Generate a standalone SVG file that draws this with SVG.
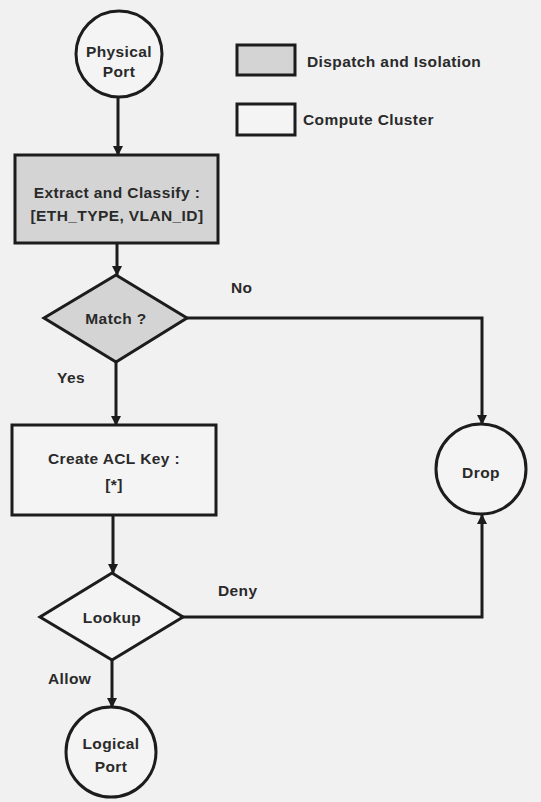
<svg xmlns="http://www.w3.org/2000/svg" width="541" height="802" viewBox="0 0 541 802">
<defs>
<style>
.n{stroke:#1c1c1c;stroke-width:3;}
.g{fill:#d4d4d4;}
.w{fill:#f4f4f4;}
.t{font-family:"Liberation Sans",Arial,sans-serif;font-weight:bold;font-size:15.5px;letter-spacing:0.4px;fill:#2a2a2a;text-anchor:middle;}
.l{font-family:"Liberation Sans",Arial,sans-serif;font-weight:bold;font-size:15.5px;letter-spacing:0.4px;fill:#2a2a2a;}
.c{fill:none;stroke:#1c1c1c;stroke-width:3;}
</style>
<marker id="a" markerWidth="10" markerHeight="10" refX="9" refY="5" orient="auto" markerUnits="userSpaceOnUse" viewBox="0 0 10 10">
<path d="M0,0 L10,5 L0,10 z" fill="#1c1c1c"/>
</marker>
</defs>
<rect width="541" height="802" fill="#f1f1f1"/>
<g id="connectors">
<line class="c" x1="118" y1="97" x2="118" y2="155" marker-end="url(#a)"/>
<line class="c" x1="117" y1="243" x2="117" y2="275" marker-end="url(#a)"/>
<line class="c" x1="116" y1="362" x2="116" y2="425" marker-end="url(#a)"/>
<polyline class="c" points="187,318 482,318 482,424" marker-end="url(#a)"/>
<line class="c" x1="113" y1="515" x2="113" y2="573" marker-end="url(#a)"/>
<polyline class="c" points="183,617 482,617 482,515" marker-end="url(#a)"/>
<line class="c" x1="112" y1="660" x2="112" y2="707" marker-end="url(#a)"/>
<text class="l" x="231" y="293">No</text>
<text class="l" x="57" y="383">Yes</text>
<text class="l" x="218" y="596">Deny</text>
<text class="l" x="48" y="684">Allow</text>
</g>
<g id="legend">
<rect class="n g" x="237" y="45" width="58" height="30"/>
<text class="l" x="307" y="67">Dispatch and Isolation</text>
<rect class="n w" x="237" y="104" width="58" height="31"/>
<text class="l" x="303" y="125">Compute Cluster</text>
</g>
<g id="physical-port">
<circle class="n w" cx="119" cy="54" r="43"/>
<text class="t" x="119" y="57">Physical</text>
<text class="t" x="119" y="77">Port</text>
</g>
<g id="extract">
<rect class="n g" x="15" y="155" width="203" height="88"/>
<text class="t" x="117" y="198">Extract and Classify :</text>
<text class="t" x="117" y="221">[ETH_TYPE, VLAN_ID]</text>
</g>
<g id="match">
<polygon class="n g" points="116,275 187,318 116,362 44,318"/>
<text class="t" x="116" y="324">Match ?</text>
</g>
<g id="create-acl">
<rect class="n w" x="12" y="425" width="204" height="90"/>
<text class="t" x="114" y="464">Create ACL Key :</text>
<text class="t" x="114" y="490">[*]</text>
</g>
<g id="lookup">
<polygon class="n w" points="112,573 183,617 112,660 40,617"/>
<text class="t" x="112" y="623">Lookup</text>
</g>
<g id="drop">
<circle class="n w" cx="481" cy="469" r="45"/>
<text class="t" x="481" y="478">Drop</text>
</g>
<g id="logical-port">
<circle class="n w" cx="111" cy="752" r="45"/>
<text class="t" x="111" y="749">Logical</text>
<text class="t" x="111" y="772">Port</text>
</g>
</svg>
